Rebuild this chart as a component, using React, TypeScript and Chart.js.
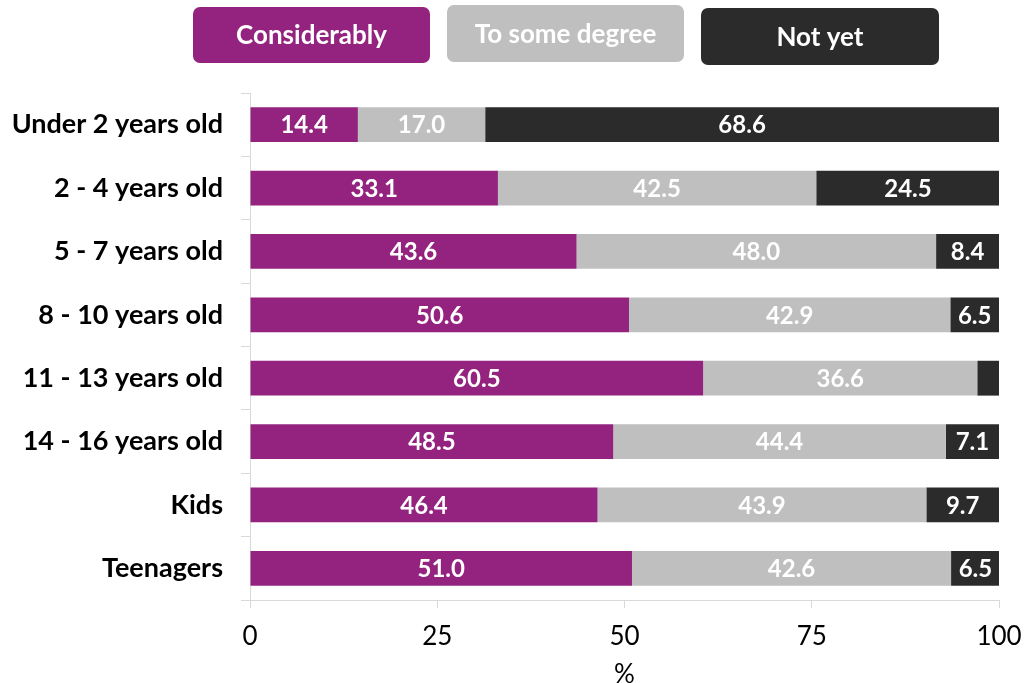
import React, { useEffect, useRef } from "react";
import { Chart, registerables } from "chart.js";

Chart.register(...registerables);

const categories = [
  "Under 2 years old",
  "2 - 4 years old",
  "5 - 7 years old",
  "8 - 10 years old",
  "11 - 13 years old",
  "14 - 16 years old",
  "Kids",
  "Teenagers",
];
const considerably = [14.4, 33.1, 43.6, 50.6, 60.5, 48.5, 46.4, 51.0];
const toSomeDegree = [17.0, 42.5, 48.0, 42.9, 36.6, 44.4, 43.9, 42.6];
const notYet = [68.6, 24.5, 8.4, 6.5, 2.9, 7.1, 9.7, 6.5];
const seriesNames = ["Considerably", "To some degree", "Not yet"];
const seriesColors = ["#93237F", "#BFBFBF", "#2B2B2B"];
const xTicks = [0, 25, 50, 75, 100];

const FONT = "Lato, 'Open Sans', sans-serif";

const labelPlugin = {
  id: "segLabels",
  afterDatasetsDraw(chart: any) {
    const ctx = chart.ctx;
    ctx.save();
    ctx.font = `bold 24px ${FONT}`;
    ctx.fillStyle = "#FFFFFF";
    ctx.textAlign = "center";
    ctx.textBaseline = "middle";
    chart.data.datasets.forEach((ds: any, di: number) => {
      const meta = chart.getDatasetMeta(di);
      meta.data.forEach((bar: any, i: number) => {
        const v = ds.data[i];
        if (v < 5) return;
        const cx = (bar.x + bar.base) / 2;
        ctx.fillText(v.toFixed(1), cx, bar.y + 1);
      });
    });
    ctx.restore();
  },
};

const legendBoxes = [
  { x: 193, y: 7, w: 237, h: 56 },
  { x: 447, y: 5, w: 237, h: 57 },
  { x: 701, y: 8, w: 238, h: 57 },
];

const legendPlugin = {
  id: "boxLegend",
  afterDraw(chart: any) {
    const ctx = chart.ctx;
    ctx.save();
    legendBoxes.forEach((b, i) => {
      ctx.fillStyle = seriesColors[i];
      ctx.beginPath();
      (ctx as any).roundRect(b.x, b.y, b.w, b.h, 7);
      ctx.fill();
      ctx.fillStyle = "#FFFFFF";
      ctx.font = `bold 26px ${FONT}`;
      ctx.textAlign = "center";
      ctx.textBaseline = "middle";
      ctx.fillText(seriesNames[i], b.x + b.w / 2, b.y + b.h / 2 + 1);
    });
    ctx.restore();
  },
};

export default function App() {
  const ref = useRef<HTMLCanvasElement | null>(null);
  useEffect(() => {
    document.body.style.margin = "0";
    const c = new Chart(ref.current!, {
      type: "bar",
      data: {
        labels: categories,
        datasets: [considerably, toSomeDegree, notYet].map((d, i) => ({
          label: seriesNames[i],
          data: d,
          backgroundColor: seriesColors[i],
          borderWidth: 0,
          barPercentage: 0.55,
          categoryPercentage: 1,
          stack: "s",
        })),
      },
      options: {
        indexAxis: "y",
        animation: false,
        responsive: false,
        maintainAspectRatio: false,
        layout: { padding: { top: 93, right: 28, left: 0, bottom: 0 } },
        plugins: { legend: { display: false }, tooltip: { enabled: false } },
        scales: {
          x: {
            stacked: true,
            min: 0,
            max: 100,
            afterBuildTicks: (s: any) => {
              s.ticks = xTicks.map((v) => ({ value: v }));
            },
            grid: { drawOnChartArea: false, color: "#D9D9D9", tickLength: 8 },
            border: { color: "#D9D9D9" },
            ticks: {
              font: { family: FONT, size: 26 },
              color: "#000",
              padding: 13,
              maxRotation: 0,
            },
            title: {
              display: true,
              text: "%",
              font: { family: FONT, size: 26 },
              color: "#000",
              padding: { top: 0, bottom: -7 },
            },
            afterFit: (s: any) => {
              s.height = 83;
              s.paddingLeft = 0;
              s.paddingRight = 0;
            },
          },
          y: {
            stacked: true,
            grid: { drawOnChartArea: false, color: "#D9D9D9", tickLength: 9 },
            border: { color: "#D9D9D9" },
            ticks: {
              font: { family: FONT, size: 27, weight: "bold" },
              color: "#000",
              padding: 18,
            },
            afterFit: (s: any) => {
              s.width = 250;
              s.paddingTop = 0;
              s.paddingBottom = 0;
            },
          },
        },
      },
      plugins: [labelPlugin, legendPlugin],
    } as any);
    return () => c.destroy();
  }, []);
  return (
    <div style={{ width: 1027, height: 683 }}>
      <canvas ref={ref} width={1027} height={683} style={{ display: "block" }} />
    </div>
  );
}
